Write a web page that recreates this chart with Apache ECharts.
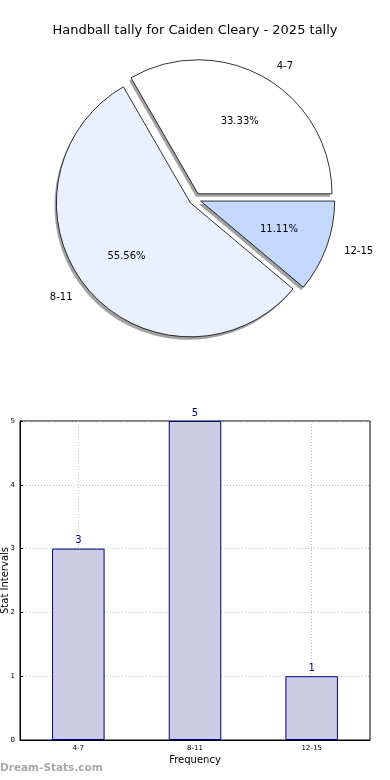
<!DOCTYPE html>
<html><head><meta charset="utf-8">
<script src="https://cdn.jsdelivr.net/npm/echarts@6/dist/echarts.min.js"></script>
<style>html,body{margin:0;padding:0;background:#fff}#c{width:390px;height:780px}</style>
</head><body><div id="c"></div>
<script>
const categories = ['4-7', '8-11', '12-15'];
const counts = [3, 5, 1];
const sliceColors = ['#ffffff', '#eaf1fe', '#c5d9fe'];
const yTicks = [0, 1, 2, 3, 4, 5];
const titleText = 'Handball tally for Caiden Cleary - 2025 tally';

const total = counts.reduce((a, b) => a + b, 0);
const font = 'DejaVu Sans';
const C = [195, 199];
const R = 134;
const OFF = 6;

const pieData = categories.map((c, i) => ({
  name: c, value: counts[i], selected: true,
  itemStyle: { color: sliceColors[i] }
}));
const shadowData = categories.map((c, i) => ({
  name: c, value: counts[i], selected: true,
  itemStyle: { color: '#a2a2a2', borderWidth: 0 }
}));
const transparentData = categories.map((c, i) => ({
  name: c, value: counts[i], selected: true,
  itemStyle: { color: 'rgba(0,0,0,0)', borderWidth: 0 }
}));

const pieCommon = {
  type: 'pie', startAngle: 0, clockwise: false,
  selectedMode: 'multiple', selectedOffset: OFF, silent: true,
  emphasis: { disabled: true }, avoidLabelOverlap: false
};

const chart = echarts.init(document.getElementById('c'), null, { renderer: 'canvas' });
chart.setOption({
  animation: false,
  backgroundColor: '#fff',
  textStyle: { fontFamily: font },
  title: {
    text: titleText, left: 'center', top: 19,
    textStyle: { fontFamily: font, fontSize: 13, fontWeight: 'normal', color: '#000' }
  },
  graphic: [{
    type: 'text', left: 0, top: 763,
    style: { text: 'Dream-Stats.com', fill: '#a8a8a8', font: 'bold 10.5px "DejaVu Sans"' }
  }],
  grid: { left: 20, right: 20, top: 421, bottom: 40, outerBoundsMode: 'none', containLabel: false,
    show: true, borderColor: '#000', borderWidth: 1, backgroundColor: 'transparent' },
  xAxis: {
    type: 'category', data: categories,
    name: 'Frequency', nameLocation: 'middle', nameGap: 15, nameMoveOverlap: false,
    nameTextStyle: { fontFamily: font, fontSize: 10, color: '#000' },
    axisLine: { lineStyle: { color: '#000' } },
    axisTick: { show: true, alignWithLabel: true, inside: true, length: 3, lineStyle: { color: '#000' } },
    axisLabel: { fontFamily: font, fontSize: 7, color: '#000', margin: 5 },
    splitLine: { show: true, alignWithLabel: true, lineStyle: { color: '#bbb', type: [1, 2], width: 1 } }
  },
  yAxis: {
    type: 'value', min: 0, max: 5, interval: 1,
    name: 'Stat Intervals', nameLocation: 'middle', nameGap: 10, nameMoveOverlap: false,
    nameTextStyle: { fontFamily: font, fontSize: 10, color: '#000' },
    axisLine: { show: true, lineStyle: { color: '#000' } },
    axisTick: { show: true, inside: true, length: 3, lineStyle: { color: '#000' } },
    axisLabel: { fontFamily: font, fontSize: 7, color: '#000', margin: 5, formatter: v => yTicks.includes(v) ? String(v) : '' },
    splitLine: { show: true, lineStyle: { color: '#bbb', type: [1, 2], width: 1 } }
  },
  series: [
    Object.assign({}, pieCommon, {
      center: [C[0] - 2, C[1] + 3], radius: R,
      label: { show: false }, labelLine: { show: false },
      data: shadowData, z: 1
    }),
    Object.assign({}, pieCommon, {
      center: C, radius: R,
      label: { show: true, position: 'outside', alignTo: 'none', distanceToLabelLine: 5,
        fontFamily: font, fontSize: 10, color: '#000', formatter: '{b}' },
      labelLine: { show: false, length: R * 0.1, length2: 0 },
      itemStyle: { borderColor: '#000', borderWidth: 0.8 },
      data: pieData, z: 2
    }),
    Object.assign({}, pieCommon, {
      center: C, radius: [0, R * 1.2],
      label: { show: true, position: 'inside', fontFamily: font, fontSize: 10, color: '#000',
        formatter: p => (p.value / total * 100).toFixed(2) + '%' },
      labelLine: { show: false },
      data: transparentData, z: 3
    }),
    {
      type: 'bar', data: counts, barWidth: '45%',
      itemStyle: { color: '#cccce4', borderColor: '#000080', borderWidth: 1 },
      label: { show: true, position: 'top', distance: 3, fontFamily: font, fontSize: 10, color: '#000080' },
      emphasis: { disabled: true }
    }
  ]
});
</script></body></html>
